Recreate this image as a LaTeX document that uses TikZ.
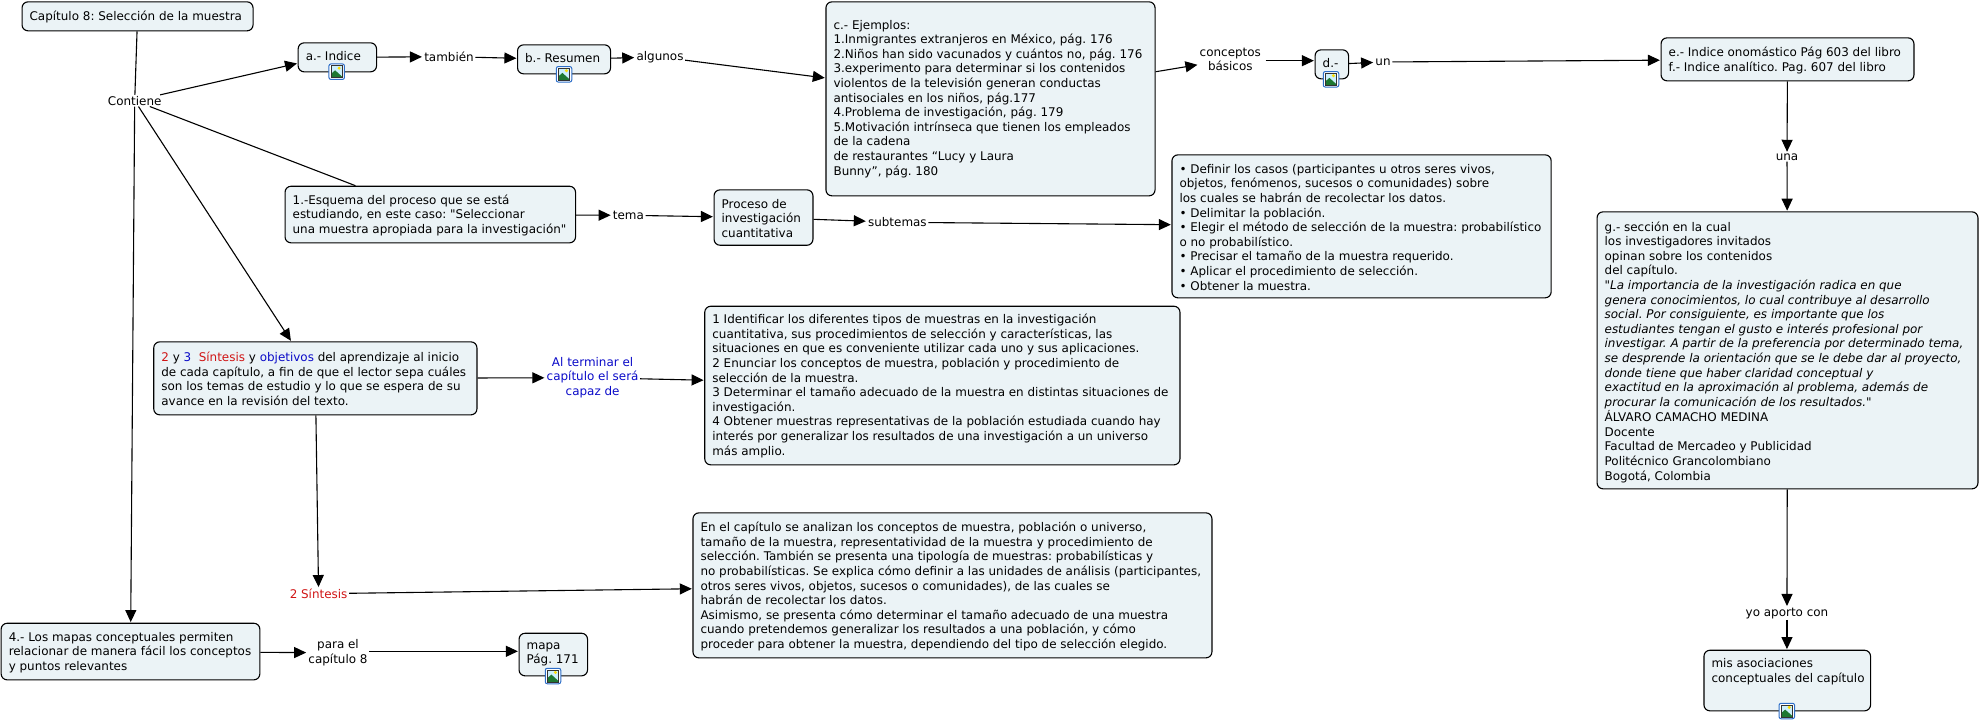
\documentclass[tikz,border=0pt]{standalone}
\usepackage{fontspec}
\setmainfont[Ligatures=TeXOff]{DejaVu Sans}
\usetikzlibrary{arrows.meta,calc}
\definecolor{boxfill}{RGB}{235,243,246}
\definecolor{redt}{RGB}{208,20,20}
\definecolor{bluet}{RGB}{10,10,200}
\definecolor{iconblue}{RGB}{45,110,200}
\definecolor{icongreen}{RGB}{30,120,50}
\newcommand{\mapfont}{\fontsize{11.95}{14.6}\selectfont\frenchspacing}
\tikzset{
  x=1pt,y=-1pt,
  cbox/.style={draw=black,fill=boxfill,line width=1.1pt,rounded corners=6pt,inner sep=0pt,anchor=north west,font=\mapfont},
  lbl/.style={inner xsep=1.5pt,inner ysep=1pt,font=\mapfont,align=center},
  conn/.style={draw=black,line width=1.1pt,-{Triangle[length=12pt,width=11pt]},shorten >=0.6pt},
  plain/.style={draw=black,line width=1.1pt},
  iconframe/.style={draw=iconblue,fill=white,line width=1pt,rounded corners=2pt,minimum size=15.5pt,inner sep=0pt}
}
\newcommand{\cb}[7]{%
  \pgfmathsetmacro{\bw}{#4-#2}\pgfmathsetmacro{\bh}{#5-#3}%
  \node[cbox] (#1) at (#2,#3) {\begin{minipage}[t][\bh pt][t]{\bw pt}\parindent=0pt\vspace*{\dimexpr #6pt-5.7pt\relax}\hspace*{7.6pt}\begin{tabular}[t]{@{}l@{}}#7\end{tabular}\end{minipage}};}
\newcommand{\icn}[3]{%
  \node[iconframe] (#1) at (#2,#3) {};
  \begin{scope}[shift={(#2,#3)}]
    \fill[white!80!cyan] (-5.5,-6) rectangle (5.5,6);
    \fill[yellow!80!orange] (2.4,-3.6) circle (1.7);
    \fill[icongreen] (-5.5,6) -- (-5.5,2) -- (-1.6,-1.4) -- (5.5,5) -- (5.5,6) -- cycle;
    \draw[black!80,line width=0.8pt] (-5.5,-6) rectangle (5.5,6);
  \end{scope}}
\begin{document}
\begin{tikzpicture}
\useasboundingbox (0,0) rectangle (1980,722);
\cb{cap}{21.5}{1.3}{252.5}{30.3}{14.4}{Capítulo 8: Selección de la muestra}
\cb{ia}{297.6}{42.3}{376}{71.3}{12.7}{a.- Indice}
\cb{ib}{517}{44.3}{610}{73.3}{12.7}{b.- Resumen}
\cb{ic}{825.4}{1.3}{1154.5}{195.3}{22.7}{c.- Ejemplos:\\1.Inmigrantes extranjeros en México, pág. 176\\2.Niños han sido vacunados y cuántos no, pág. 176\\3.experimento para determinar si los contenidos\\violentos de la televisión generan conductas\\antisociales en los niños, pág.177\\4.Problema de investigación, pág. 179\\5.Motivación intrínseca que tienen los empleados\\de la cadena\\de restaurantes “Lucy y Laura\\Bunny”, pág. 180}
\cb{id}{1314.5}{49.3}{1348}{78.3}{12.7}{d.-}
\cb{ie}{1660.5}{37.3}{1913.4}{80.3}{14.4}{e.- Indice onomástico Pág 603 del libro\\f.- Indice analítico. Pag. 607 del libro}
\cb{esq}{284.5}{185.7}{575}{242.3}{13.3}{1.-Esquema del proceso que se está\\estudiando, en este caso: "Seleccionar\\una muestra apropiada para la investigación"}
\cb{pro}{713.5}{189.3}{812.4}{244.7}{14}{Proceso de\\investigación\\cuantitativa}
\cb{bul}{1171.4}{154.3}{1550.6}{297.3}{14}{• Definir los casos (participantes u otros seres vivos,\\objetos, fenómenos, sucesos o comunidades) sobre\\los cuales se habrán de recolectar los datos.\\• Delimitar la población.\\• Elegir el método de selección de la muestra: probabilístico\\o no probabilístico.\\• Precisar el tamaño de la muestra requerido.\\• Aplicar el procedimiento de selección.\\• Obtener la muestra.}
\cb{ig}{1596.5}{211.3}{1977.4}{488.3}{14.7}{g.- sección en la cual\\los investigadores invitados\\opinan sobre los contenidos\\del capítulo.\\\textit{"La importancia de la investigación radica en que}\\\textit{genera conocimientos, lo cual contribuye al desarrollo}\\\textit{social. Por consiguiente, es importante que los}\\\textit{estudiantes tengan el gusto e interés profesional por}\\\textit{investigar. A partir de la preferencia por determinado tema,}\\\textit{se desprende la orientación que se le debe dar al proyecto,}\\\textit{donde tiene que haber claridad conceptual y}\\\textit{exactitud en la aproximación al problema, además de}\\\textit{procurar la comunicación de los resultados."}\\ÁLVARO CAMACHO MEDINA\\Docente\\Facultad de Mercadeo y Publicidad\\Politécnico Grancolombiano\\Bogotá, Colombia}
\cb{syo}{153.2}{341.3}{476.4}{414.3}{15.4}{\textcolor{redt}{2} y \textcolor{bluet}{3}\ \ \textcolor{redt}{Síntesis} y \textcolor{bluet}{objetivos} del aprendizaje al inicio\\de cada capítulo, a fin de que el lector sepa cuáles\\son los temas de estudio y lo que se espera de su\\avance en la revisión del texto.}
\cb{ide}{704.2}{305.7}{1179.4}{464.3}{13}{1 Identificar los diferentes tipos de muestras en la investigación\\cuantitativa, sus procedimientos de selección y características, las\\situaciones en que es conveniente utilizar cada uno y sus aplicaciones.\\2 Enunciar los conceptos de muestra, población y procedimiento de\\selección de la muestra.\\3 Determinar el tamaño adecuado de la muestra en distintas situaciones de\\investigación.\\4 Obtener muestras representativas de la población estudiada cuando hay\\interés por generalizar los resultados de una investigación a un universo\\más amplio.}
\cb{enc}{692.4}{512.3}{1211.4}{657.3}{14.4}{En el capítulo se analizan los conceptos de muestra, población o universo,\\tamaño de la muestra, representatividad de la muestra y procedimiento de\\selección. También se presenta una tipología de muestras: probabilísticas y\\no probabilísticas. Se explica cómo definir a las unidades de análisis (participantes,\\otros seres vivos, objetos, sucesos o comunidades), de las cuales se\\habrán de recolectar los datos.\\Asimismo, se presenta cómo determinar el tamaño adecuado de una muestra\\cuando pretendemos generalizar los resultados a una población, y cómo\\proceder para obtener la muestra, dependiendo del tipo de selección elegido.}
\cb{cua}{0.6}{622.7}{259.3}{679.3}{13.3}{4.- Los mapas conceptuales permiten\\relacionar de manera fácil los conceptos\\y puntos relevantes}
\cb{map}{518.5}{632.7}{587}{675.3}{11.6}{mapa\\Pág. 171}
\cb{mis}{1703.4}{649.7}{1870}{710.3}{13}{mis asociaciones\\conceptuales del capítulo}
% linking phrases
\node[lbl] (contiene) at (134.7,100.7) {Contiene};
\node[lbl] (tambien) at (449,56.7) {también};
\node[lbl] (algunos) at (660,57) {algunos};
\node[lbl] (tema) at (628.4,215.3) {tema};
\node[lbl] (subtemas) at (897.4,222.3) {subtemas};
\node[lbl] (conceptos) at (1230.3,59.4) {conceptos\\básicos};
\node[lbl] (un) at (1383,62) {un};
\node[lbl] (una) at (1787,157) {una};
\node[lbl,text=bluet] (alterminar) at (592.6,377.7) {Al terminar el\\capítulo el será\\capaz de};
\node[lbl,text=redt] (sintesis) at (318.6,593.7) {2 Síntesis};
\node[lbl] (para) at (338,652.8) {para el\\capítulo 8};
\node[lbl] (yo) at (1786.95,613.2) {yo aporto con};
\coordinate (cb) at ([xshift=3pt,yshift=-1.3pt]conceptos.east);
\coordinate (pm) at ([yshift=1.5pt]para.east);
% connectors
\draw[plain] (cap) -- (contiene);
\draw[conn] (contiene) -- ([yshift=-6pt]ia.west);
\draw[plain] (contiene) -- (esq);
\draw[conn] (contiene) -- (syo);
\draw[conn] (contiene) -- (cua);
\draw[conn] (ia) -- (tambien);
\draw[conn] (tambien) -- (ib);
\draw[conn] (ib) -- (algunos);
\draw[conn] (algunos) -- (ic);
\draw[conn] (ic) -- (conceptos);
\draw[conn] (cb) -- (cb -| id.west);
\draw[conn] (id) -- (un);
\draw[conn] (un) -- (ie);
\draw[conn] (ie) -- (una);
\draw[conn] (una) -- (ig);
\draw[conn] (ig) -- (yo);
\draw[conn] (yo) -- (yo |- mis.north);
\draw[conn] (esq) -- (tema);
\draw[conn] (tema) -- (pro);
\draw[conn] (pro) -- (subtemas);
\draw[conn] (subtemas) -- (bul);
\draw[conn] (syo) -- (alterminar);
\draw[conn] (alterminar) -- (ide);
\draw[conn] (syo) -- (sintesis);
\draw[conn] (sintesis) -- (enc);
\draw[conn] (cua) -- (para);
\draw[conn] (pm) -- (pm -| map.west);
% icons
\icn{icona}{336.7}{71.7}
\icn{iconb}{564}{74.3}
\icn{icond}{1331}{79.3}
\icn{iconm}{553}{676}
\icn{iconi}{1786.8}{711}
\end{tikzpicture}
\end{document}
